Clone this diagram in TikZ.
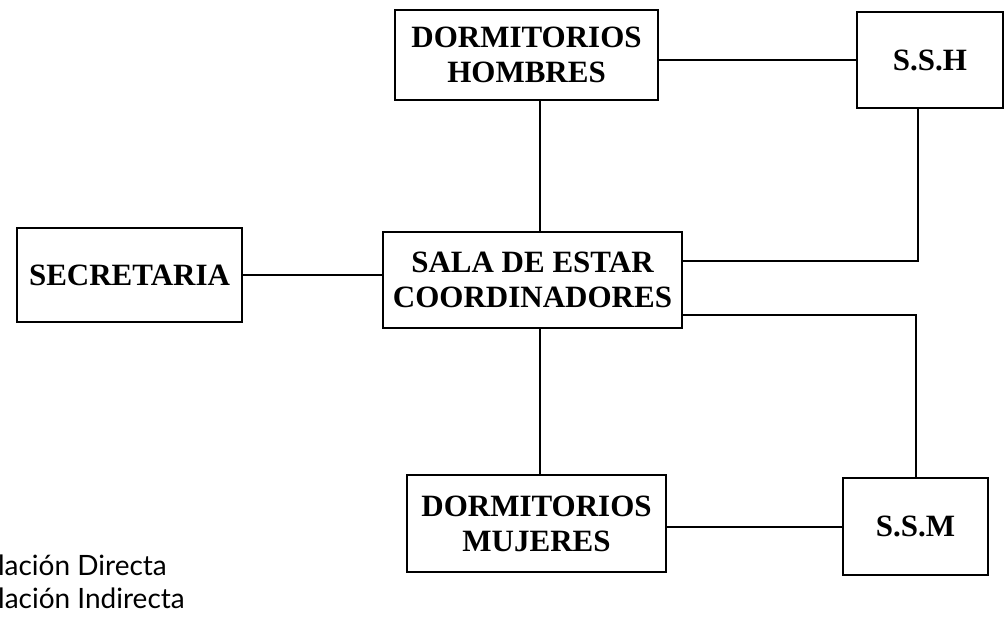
\documentclass[tikz,border=0pt]{standalone}
\usepackage{fontspec}
\setmainfont{Liberation Serif}
\newfontfamily\legendfont{Lato}
\begin{document}
\begin{tikzpicture}[x=1pt,y=-1pt,
  room/.style={draw, line width=2pt, inner sep=0pt, align=center,
    font=\fontsize{31}{35}\selectfont\bfseries},
  link/.style={line width=2pt},
  legend/.style={font=\legendfont\fontsize{28}{32}\selectfont, inner sep=0pt}]
\useasboundingbox (0,0) rectangle (1008,618);
\clip (0,0) rectangle (1008,618);
\fill[white] (0,0) rectangle (1008,618);
\node[room, minimum width=263pt, minimum height=90pt] (DH) at (526.5,55) {DORMITORIOS\\HOMBRES};
\node[room, minimum width=146pt, minimum height=96pt] (SSH) at (930,60) {S.S.H};
\node[room, minimum width=225pt, minimum height=94pt] (SEC) at (129.5,275) {SECRETARIA};
\node[room, minimum width=299pt, minimum height=96pt] (SALA) at (532.5,280) {SALA DE ESTAR\\COORDINADORES};
\node[room, minimum width=259pt, minimum height=97pt] (DM) at (536.5,523.5) {DORMITORIOS\\MUJERES};
\node[room, minimum width=145pt, minimum height=97pt] (SSM) at (915.5,526.5) {S.S.M};
\coordinate (vx) at (540,0);
\coordinate (r1) at (682,261);
\coordinate (r2) at (682,315);
\coordinate (sx) at (918,0);
\draw[link] (vx |- DH.south) -- (vx |- SALA.north);
\draw[link] (vx |- SALA.south) -- (vx |- DM.north);
\draw[link] (SSH.west -| DH.east) -- (SSH.west);
\draw[link] (sx |- SSH.south) |- (r1);
\draw[link] (r2) -| (SSM.north);
\draw[link] (SEC.east) -- (SEC.east -| SALA.west);
\draw[link] (SSM.west -| DM.east) -- (SSM.west);
\node[legend, anchor=base east] (L1) at (167,575) {Relación Directa};
\node[legend, anchor=base east] (L2) at (185,608) {Relación Indirecta};
\end{tikzpicture}
\end{document}
